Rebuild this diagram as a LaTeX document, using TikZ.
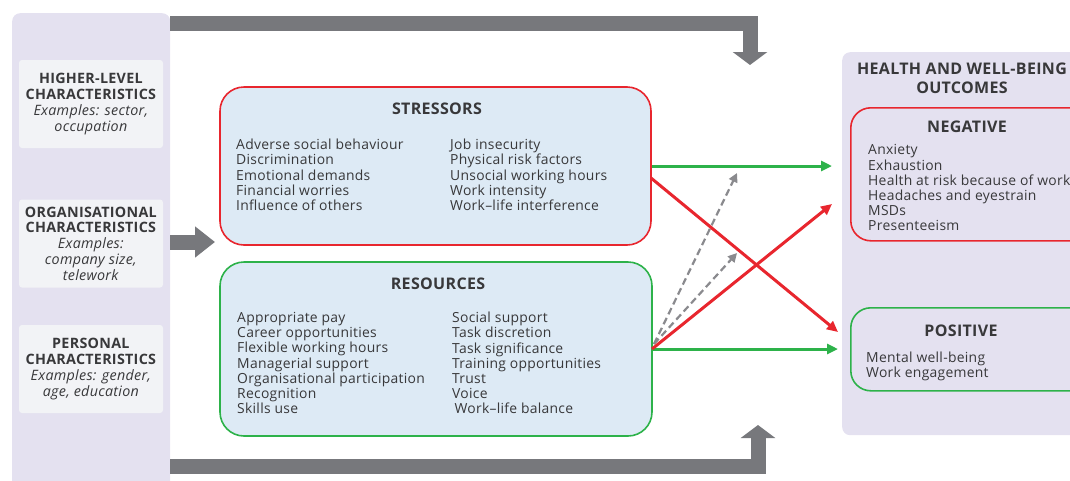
\documentclass[tikz,border=0pt]{standalone}
\usepackage{fontspec}
\setmainfont{Open Sans}[LetterSpace=2]
\usetikzlibrary{arrows.meta,positioning}

\definecolor{panelcol}{HTML}{E4E1F0}
\definecolor{charcol}{HTML}{F2F3F6}
\definecolor{boxfill}{HTML}{DDEAF5}
\definecolor{redline}{HTML}{E8262E}
\definecolor{greenline}{HTML}{2DB24A}
\definecolor{arrowgray}{HTML}{77787C}
\definecolor{dashgray}{HTML}{8A8A8E}
\definecolor{textcol}{HTML}{38383A}

\newcommand\bodysize{\fontsize{13.9}{15.2}\selectfont}
\newcommand\charsize{\fontsize{14.3}{15.7}\selectfont}
\newcommand\headsize{\fontsize{16}{19}\selectfont\bfseries}

\begin{document}
\begin{tikzpicture}[x=1pt,y=-1pt,
    every node/.style={text=textcol},
    panel/.style={fill=panelcol,rounded corners=8pt,inner sep=0pt},
    charbox/.style={fill=charcol,rounded corners=3pt,minimum width=144pt,
      minimum height=88pt,inner sep=0pt,align=center,font=\charsize},
    factorbox/.style={fill=boxfill,line width=1.6pt,rounded corners=24pt,inner sep=0pt},
    outbox/.style={line width=1.6pt,rounded corners=20pt,inner sep=0pt},
    heading/.style={font=\headsize,align=center,inner sep=0pt},
    column/.style={font=\bodysize,align=left,anchor=north west,inner sep=0pt},
    bigarrow/.style={draw=arrowgray,line width=15pt,
      -{Triangle[length=13pt,width=34pt]}},
    goodarrow/.style={draw=greenline,line width=3pt,
      -{Triangle[length=11pt,width=10pt]}},
    badarrow/.style={draw=redline,line width=3pt,
      -{Triangle[length=11pt,width=10pt]}},
    modarrow/.style={draw=dashgray,line width=2.2pt,dash pattern=on 7pt off 4pt,
      -{Triangle[length=9pt,width=9pt]}}]
\useasboundingbox (0,0) rectangle (1070,480);
\clip (0,0) rectangle (1070,480);

% left panel with the characteristics
\node[panel,minimum width=158pt,minimum height=480pt,anchor=north west] (drivers) at (12,13) {};
\node[charbox] (higher) at (91,104)
  {\textbf{HIGHER-LEVEL}\\\textbf{CHARACTERISTICS}\\\textit{Examples: sector,}\\\textit{occupation}};
\node[charbox] (organ) at (91,243.5)
  {\textbf{ORGANISATIONAL}\\\textbf{CHARACTERISTICS}\\\textit{Examples:}\\\textit{company size,}\\\textit{telework}};
\node[charbox] (person) at (91,369)
  {\textbf{PERSONAL}\\\textbf{CHARACTERISTICS}\\\textit{Examples: gender,}\\\textit{age, education}};

% big gray arrows
\draw[bigarrow] (170,23.5) -- (750,23.5) -- (750,65);
\draw[bigarrow] (170,466.5) -- (758,466.5) -- (758,425);
\draw[bigarrow,-{Triangle[length=20pt,width=30pt]}] (170,242) -- (215,242);

% stressors and resources
\node[factorbox,draw=redline,minimum width=431pt,minimum height=158pt] (stress) at (435.5,166) {};
\node[heading] (stresstitle) at (437,108.5) {STRESSORS};
\node[column] (stressL) at (236,139)
  {Adverse social behaviour\\Discrimination\\Emotional demands\\Financial worries\\Influence of others};
\node[column] (stressR) at (450,139)
  {Job insecurity\\Physical risk factors\\Unsocial working hours\\Work intensity\\Work–life interference};

\node[factorbox,draw=greenline,minimum width=432pt,minimum height=174pt] (res) at (436,349) {};
\node[heading] (restitle) at (438,283.5) {RESOURCES};
\node[column] (resL) at (237,312)
  {Appropriate pay\\Career opportunities\\Flexible working hours\\Managerial support\\Organisational participation\\Recognition\\Skills use};
\node[column] (resR) at (452,312)
  {Social support\\Task discretion\\Task significance\\Training opportunities\\Trust\\Voice\\\,Work–life balance};

% outcomes panel
\node[panel,minimum width=250pt,minimum height=383pt,anchor=north west] (outcomes) at (842,52) {};
\node[heading] (outtitle) at (962,78.5) {HEALTH AND WELL-BEING\\OUTCOMES};
\node[outbox,draw=redline,minimum width=240pt,minimum height=133pt,anchor=north west] (neg) at (850,107) {};
\node[heading] (negtitle) at (967,126.5) {NEGATIVE};
\node[column] (negL) at (868,144.5)
  {Anxiety\\Exhaustion\\Health at risk because of work\\Headaches and eyestrain\\MSDs\\Presenteeism};
\node[outbox,draw=greenline,minimum width=240pt,minimum height=83pt,anchor=north west] (pos) at (850,307) {};
\node[heading] (postitle) at (961,330.5) {POSITIVE};
\node[column] (posL) at (866,352)
  {Mental well-being\\Work engagement};

% connectors
\coordinate (stressout) at (651,178);
\coordinate (resout) at (652,349);
\coordinate (modfrom) at (654,344);
\coordinate (negtop) at (832,166);
\coordinate (neglow) at (832,204);
\coordinate (posup) at (838,332);
\coordinate (posmid) at (838,349);
\coordinate (modneg) at (737,173);
\coordinate (modpos) at (737,253);

\draw[modarrow] (modfrom) -- (modneg);
\draw[modarrow] (modfrom) -- (modpos);
\draw[goodarrow] (stress.east) -- (negtop);
\draw[goodarrow] (resout) -- (posmid);
\draw[badarrow] (stressout) -- (posup);
\draw[badarrow] (resout) -- (neglow);
\end{tikzpicture}
\end{document}
